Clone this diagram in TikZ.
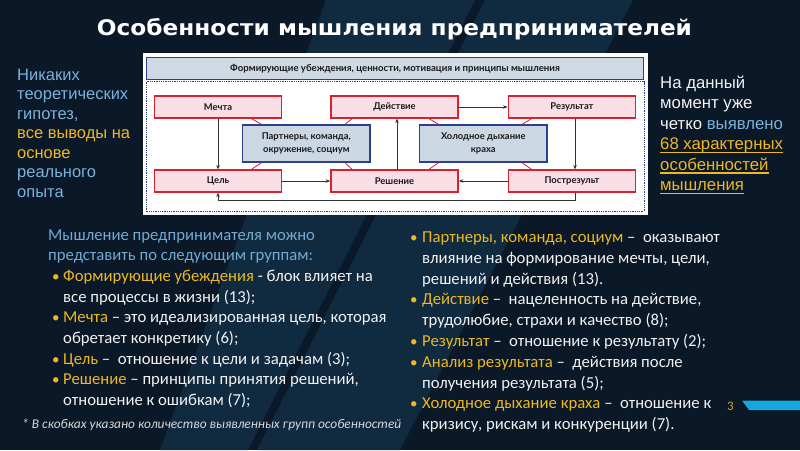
\documentclass[tikz,border=0pt]{standalone}
\usepackage{fontspec}
\setmainfont{Carlito}
\newfontfamily\latofont{Lato}[BoldFont={Lato Bold}]
\newfontfamily\arialfont{Liberation Sans}
\newfontfamily\titlefont{DejaVu Sans}
\usetikzlibrary{calc,arrows.meta}
\definecolor{bgc}{HTML}{0A1828}
\definecolor{bandc}{HTML}{102A40}
\definecolor{lblue}{HTML}{7AB2DA}
\definecolor{hblue}{HTML}{72AAD2}
\definecolor{gold}{HTML}{EDB822}
\definecolor{wtxt}{HTML}{F2F2F2}
\definecolor{ftxt}{HTML}{D8D8D8}
\definecolor{pgold}{HTML}{C9A230}
\definecolor{cyanbar}{HTML}{14A7E0}
\definecolor{dred}{HTML}{D8202E}
\definecolor{rpink}{HTML}{F9DEE6}
\definecolor{dblue}{HTML}{2B3F8C}
\definecolor{bfill}{HTML}{CBD8E3}
\definecolor{hfill}{HTML}{CFD9E4}
\definecolor{dtext}{HTML}{1A1A1A}
\definecolor{arrc}{HTML}{333333}
\begin{document}
\begin{tikzpicture}[x=1pt,y=-1pt,
  txt/.style={inner sep=0pt, anchor=base west, font=\fontsize{16.7}{20}\selectfont, text=wtxt},
  side/.style={inner sep=0pt, anchor=base west, font=\arialfont\fontsize{16.5}{19}\selectfont},
  sider/.style={inner sep=0pt, anchor=base west, font=\arialfont\fontsize{16.75}{19}\selectfont},
  redbox/.style={draw=dred, line width=1.6pt, fill=rpink, minimum width=127pt, minimum height=21.5pt, inner sep=0pt, font=\latofont\bfseries\fontsize{9.4}{11}\selectfont, text=dtext},
  bluebox/.style={draw=dblue, line width=1.6pt, fill=bfill, minimum width=127.5pt, minimum height=36.5pt, inner sep=0pt, align=center, font=\latofont\bfseries\fontsize{9.4}{13.3}\selectfont, text=dtext},
  conn/.style={draw=dred, line width=0.8pt},
  arr/.style={draw=arrc, line width=0.7pt, -{Stealth[length=4.5pt,width=3.5pt]}},
  bul/.style={inner sep=0pt, anchor=base west, font=\fontsize{15}{20}\selectfont, text=gold}]
\useasboundingbox (0,0) rectangle (800,450);
\fill[bgc] (0,0) rectangle (800,450);
\fill[bandc] (326,0) -- (475,0) -- (248,450) -- (160,450) -- cycle;
\fill[bandc] (485,0) -- (633,0) -- (400,450) -- (257,450) -- cycle;
% title
\node[inner sep=0pt, anchor=base, text=white, font=\titlefont\bfseries\fontsize{21.5}{25}\selectfont] (title) at (394.5,35) {\scalebox{1.08}[1]{Особенности мышления предпринимателей}};
% diagram panel
\fill[white] (142.5,53) rectangle (647.5,215);
\draw[dblue, line width=0.9pt, dash pattern=on 0.9pt off 0.9pt] (146,81.5) rectangle (644,211.5);
\node[draw=dblue, fill=hfill, line width=1.6pt, minimum width=497pt, minimum height=22pt, inner sep=0pt, font=\latofont\bfseries\fontsize{9.6}{11}\selectfont, text=dtext] (hdr) at (395,68.3) {Формирующие убеждения, ценности, мотивация и принципы мышления};
\node[redbox] (m) at (218,107) {Мечта};
\node[redbox] (d) at (394.5,107) {Действие};
\node[redbox] (res) at (572,107) {Результат};
\node[redbox] (c) at (218,181) {Цель};
\node[redbox] (r) at (394.5,181) {Решение};
\node[redbox] (pr) at (572,181) {Пострезульт};
\node[bluebox] (p) at (306.3,143.5) {Партнеры, команда,\\окружение, социум};
\node[bluebox] (h) at (483.3,143.5) {Холодное дыхание\\краха};
% red links
\draw[conn] ($(p.north west)+(20,0)$) -- ($(m.south east)+(-31,0)$);
\draw[conn] ($(p.north east)+(-26,0)$) -- ($(d.south west)+(22,0)$);
\draw[conn] ($(p.south west)+(20,0)$) -- ($(c.north east)+(-31,0)$);
\draw[conn] ($(p.south east)+(-26,0)$) -- ($(r.north west)+(22,0)$);
\draw[conn] ($(h.north west)+(20,0)$) -- ($(d.south east)+(-30,0)$);
\draw[conn] ($(h.north east)+(-26,0)$) -- ($(res.south west)+(24,0)$);
\draw[conn] ($(h.south west)+(20,0)$) -- ($(r.north east)+(-30,0)$);
\draw[conn] ($(h.south east)+(-26,0)$) -- ($(pr.north west)+(24,0)$);
% arrows
\draw[arr] (m.south) -- (c.north);
\draw[arr] (c.east) -- (r.west);
\draw[arr] ($(r.north)+(2.5,0)$) -- ($(d.south)+(2.5,0)$);
\draw[arr] (d.east) -- (res.west);
\draw[arr] ($(res.south)+(3,0)$) -- ($(pr.north)+(3,0)$);
\draw[arr] (pr.west) -- (r.east);
\draw[arr] ($(pr.south)+(3,0)$) -- ++(0,8) -| (c.south);
% left side text
\node[side, text=lblue] (s1) at (17,80) {Никаких};
\node[side, text=lblue] (s2) at (17,99.5) {теоретических};
\node[side, text=lblue] (s3) at (17,119) {гипотез,};
\node[side, text=gold] (s4) at (17,138.5) {все выводы на};
\node[side, text=gold] (s5) at (17,158) {основе};
\node[side, text=lblue] (s6) at (17,177.5) {реального};
\node[side, text=lblue] (s7) at (17,197) {опыта};
% right side text
\node[sider, text=wtxt] (t1) at (660,88) {На данный};
\node[sider, text=wtxt] (t2) at (660,108.5) {момент уже};
\node[sider, text=wtxt] (t3) at (660,129) {четко \textcolor{lblue}{выявлено}};
\node[sider, text=gold] (t4) at (660,149.5) {68 характерных};
\node[sider, text=gold] (t5) at (660,170) {особенностей};
\node[sider, text=gold] (t6) at (660,190.5) {мышления};
\foreach \n in {t4,t5,t6}{\draw[gold, line width=1.1pt] ($(\n.base west)+(0,3)$) -- ($(\n.base east)+(0,3)$);}
% bottom left column
\node[txt, text=hblue] (a1) at (48,240) {Мышление предпринимателя можно};
\node[txt, text=hblue] (a2) at (48,260.7) {представить по следующим группам:};
\node[bul] (b1) at (52,281.4) {•};
\node[txt] (a3) at (63,281.4) {\textcolor{gold}{Формирующие убеждения} - блок влияет на};
\node[txt] (a4) at (63,302.1) {все процессы в жизни (13);};
\node[bul] (b2) at (52,322.8) {•};
\node[txt] (a5) at (63,322.8) {\textcolor{gold}{Мечта} – это идеализированная цель, которая};
\node[txt] (a6) at (63,343.5) {обретает конкретику (6);};
\node[bul] (b3) at (52,364.2) {•};
\node[txt] (a7) at (63,364.2) {\textcolor{gold}{Цель} –~ отношение к цели и задачам (3);};
\node[bul] (b4) at (52,384.9) {•};
\node[txt] (a8) at (63,384.9) {\textcolor{gold}{Решение} – принципы принятия решений,};
\node[txt] (a9) at (63,405.6) {отношение к ошибкам (7);};
\node[inner sep=0pt, anchor=base west, font=\itshape\fontsize{13.4}{16}\selectfont, text=ftxt] (fn) at (22,428) {* В скобках указано количество выявленных групп особенностей};
% bottom right column
\node[bul] (c1) at (410,242.5) {•};
\node[txt] (r1) at (422,242.5) {\textcolor{gold}{Партнеры, команда, социум} –~ оказывают};
\node[txt] (r2) at (422,263.3) {влияние на формирование мечты, цели,};
\node[txt] (r3) at (422,284.1) {решений и действия (13).};
\node[bul] (c2) at (410,304.9) {•};
\node[txt] (r4) at (422,304.9) {\textcolor{gold}{Действие} –~ нацеленность на действие,};
\node[txt] (r5) at (422,325.7) {трудолюбие, страхи и качество (8);};
\node[bul] (c3) at (410,346.5) {•};
\node[txt] (r6) at (422,346.5) {\textcolor{gold}{Результат} –~ отношение к результату (2);};
\node[bul] (c4) at (410,367.3) {•};
\node[txt] (r7) at (422,367.3) {\textcolor{gold}{Анализ результата} –~ действия после};
\node[txt] (r8) at (422,388.1) {получения результата (5);};
\node[bul] (c5) at (410,408.9) {•};
\node[txt] (r9) at (422,408.9) {\textcolor{gold}{Холодное дыхание краха} –~ отношение к};
\node[txt] (r10) at (422,429.7) {кризису, рискам и конкуренции (7).};
% page number and bar
\node[inner sep=0pt, anchor=base west, font=\fontsize{13}{16}\selectfont, text=pgold] (pg) at (727,410) {3};
\fill[cyanbar] (742,400.5) -- (800,400.5) -- (800,410) -- (749,410) -- cycle;
\end{tikzpicture}
\end{document}
